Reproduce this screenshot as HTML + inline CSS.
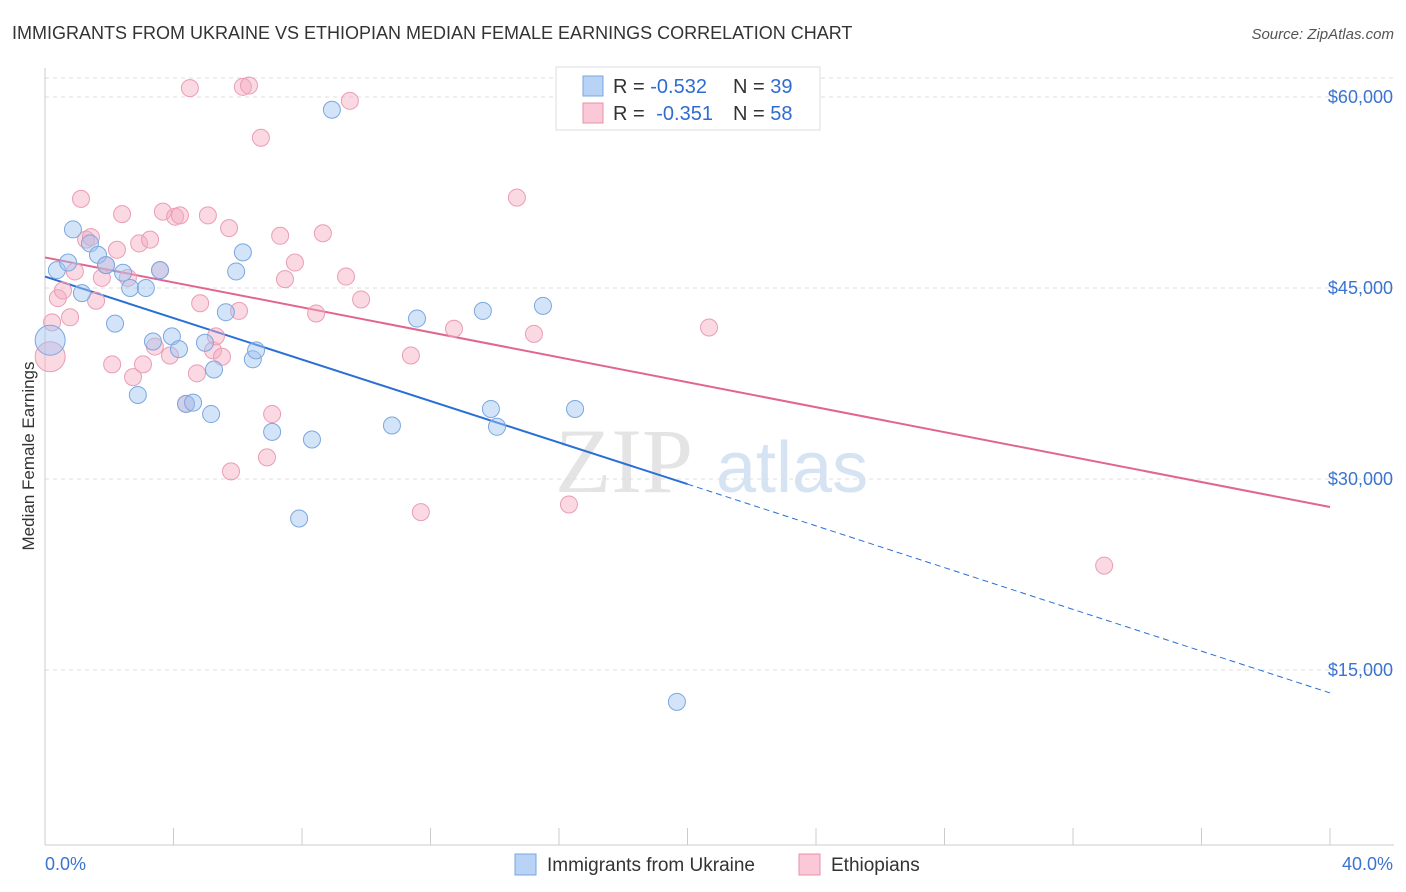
<!DOCTYPE html>
<html><head><meta charset="utf-8"><style>
body{margin:0;background:#fff;font-family:"Liberation Sans",sans-serif;}
svg{display:block}
</style></head><body>
<svg id="chart" width="1406" height="892" xmlns="http://www.w3.org/2000/svg">
<text x="12" y="39" font-size="18" fill="#333">IMMIGRANTS FROM UKRAINE VS ETHIOPIAN MEDIAN FEMALE EARNINGS CORRELATION CHART</text>
<text x="1394" y="39" font-size="15" fill="#555" font-style="italic" text-anchor="end">Source: ZipAtlas.com</text>
<text transform="translate(34,456) rotate(-90)" font-size="17" fill="#333" text-anchor="middle">Median Female Earnings</text>
<g><text x="555" y="492" font-size="92" fill="#e4e4e4" font-family="Liberation Serif,serif">ZIP</text><text x="716" y="492" font-size="72" fill="#d6e3f3">atlas</text></g>
<g id="grid"></g><g id="axes"></g><g id="lines"></g><g id="pts"></g>
<g>
<rect x="556" y="67" width="264" height="63" fill="#fff" stroke="#ddd"/>
<rect x="583" y="76" width="20" height="20" fill="#b8d3f5" stroke="#7aa7e0"/>
<rect x="583" y="103" width="20" height="20" fill="#fac8d6" stroke="#e890ab"/>
<text x="613" y="93" font-size="20" fill="#333">R = <tspan fill="#2f6cd0">-0.532</tspan><tspan x="733">N = </tspan><tspan fill="#2f6cd0">39</tspan></text>
<text x="613" y="120" font-size="20" fill="#333">R = <tspan fill="#2f6cd0" dx="6">-0.351</tspan><tspan x="733">N = </tspan><tspan fill="#2f6cd0">58</tspan></text>
</g>
<g>
<rect x="515" y="854" width="21" height="21" fill="#b8d3f5" stroke="#7aa7e0"/>
<text x="547" y="871" font-size="19" fill="#333">Immigrants from Ukraine</text>
<rect x="799" y="854" width="21" height="21" fill="#fac8d6" stroke="#e890ab"/>
<text x="831" y="871" font-size="19" fill="#333">Ethiopians</text>
</g>
</svg>
<script>
const yTicks=[15000,30000,45000,60000];
const yTickLabels=["$15,000","$30,000","$45,000","$60,000"];
const xEndLabels=["0.0%","40.0%"];
const ukrX=[0.16,0.37,0.72,0.87,1.15,1.40,1.65,1.90,2.18,2.43,2.65,2.89,3.14,3.36,3.58,3.95,4.17,4.39,4.61,4.98,5.17,5.26,5.63,5.95,6.16,6.47,6.57,7.07,7.91,8.31,8.93,10.80,11.58,13.63,13.88,14.07,15.50,16.50,19.67];
const ukrY=[40900,46400,47000,49600,44600,48500,47600,46800,42200,46200,45000,36600,45000,40800,46400,41200,40200,35900,36000,40700,35100,38600,43100,46300,47800,39400,40100,33700,26900,33100,59000,34200,42600,43200,35500,34100,43600,35500,12500];
const ethX=[0.16,0.22,0.40,0.56,0.78,0.93,1.12,1.28,1.43,1.59,1.77,1.90,2.09,2.24,2.40,2.58,2.74,2.93,3.05,3.27,3.42,3.58,3.67,3.89,4.05,4.20,4.39,4.51,4.73,4.83,5.07,5.23,5.32,5.51,5.73,5.79,6.04,6.16,6.35,6.72,6.91,7.07,7.32,7.47,7.78,8.44,8.65,9.37,9.49,9.84,11.39,11.70,12.73,14.69,15.22,16.31,20.67,32.97];
const ethY=[39600,42300,44200,44800,42700,46300,52000,48800,49000,44000,45800,46800,39000,48000,50800,45800,38000,48500,39000,48800,40400,46400,51000,39700,50600,50700,35900,60700,38300,43800,50700,40100,41200,39600,49700,30600,43200,60800,60900,56800,31700,35100,49100,45700,47000,43000,49300,45900,59700,44100,39700,27400,41800,52100,41400,28000,41900,23200];
const ukrTrend=[[0,45900],[20,29600],[40,13200]];
const ethTrend=[[0,47400],[40,27800]];
const NS="http://www.w3.org/2000/svg";
const X=p=>45+p/40*1285, Y=v=>97+(60000-v)/15000*191;
function mk(tag,parent,attrs){const e=document.createElementNS(NS,tag);for(const k in attrs)e.setAttribute(k,attrs[k]);document.getElementById(parent).appendChild(e);return e;}
yTicks.forEach((t,i)=>{
 const g=mk('line','grid',{x1:45,x2:1394,y1:Y(t),y2:Y(t),stroke:'#ddd','stroke-dasharray':'4,4'});
 
 
 const l=mk('text','axes',{x:1393,y:Y(t)+6,'font-size':18,fill:'#3b73d1','text-anchor':'end'});l.textContent=yTickLabels[i];
 
 
});
const tg=mk('line','grid',{x1:45,x2:1394,y1:78,y2:78,stroke:'#ddd','stroke-dasharray':'4,4'});


const ya=mk('line','axes',{x1:45,x2:45,y1:68,y2:845,stroke:'#ccc'});


const xa=mk('line','axes',{x1:45,x2:1394,y1:845,y2:845,stroke:'#ccc'});


for(let p=4;p<=40;p+=4){const t=mk('line','axes',{x1:X(p),x2:X(p),y1:828,y2:845,stroke:'#ccc'});
 
 }
[[0,'start',45],[40,'end',1393]].forEach((d,i)=>{const l=mk('text','axes',{x:d[2],y:870,'font-size':18,fill:'#3b73d1','text-anchor':d[1]});l.textContent=xEndLabels[i];
 
 });
const ua=mk('line','lines',{x1:X(ukrTrend[0][0]),y1:Y(ukrTrend[0][1]),x2:X(ukrTrend[1][0]),y2:Y(ukrTrend[1][1]),stroke:'#2a6fd6','stroke-width':2});


const ub=mk('line','lines',{x1:X(ukrTrend[1][0]),y1:Y(ukrTrend[1][1]),x2:X(ukrTrend[2][0]),y2:Y(ukrTrend[2][1]),stroke:'#2a6fd6','stroke-width':1,'stroke-dasharray':'6,4'});


const el=mk('line','lines',{x1:X(ethTrend[0][0]),y1:Y(ethTrend[0][1]),x2:X(ethTrend[1][0]),y2:Y(ethTrend[1][1]),stroke:'#e0668f','stroke-width':2});


ethX.forEach((x,i)=>{const c=mk('circle','pts',{cx:X(x),cy:Y(ethY[i]),r:i==0?15:8.5,fill:'rgba(244,170,192,0.45)',stroke:'#eb9cb6','stroke-width':1});
 
 });
ukrX.forEach((x,i)=>{const c=mk('circle','pts',{cx:X(x),cy:Y(ukrY[i]),r:i==0?15:8.5,fill:'rgba(160,195,240,0.45)',stroke:'#7aa7e0','stroke-width':1});
 
 });
</script>
</body></html>
